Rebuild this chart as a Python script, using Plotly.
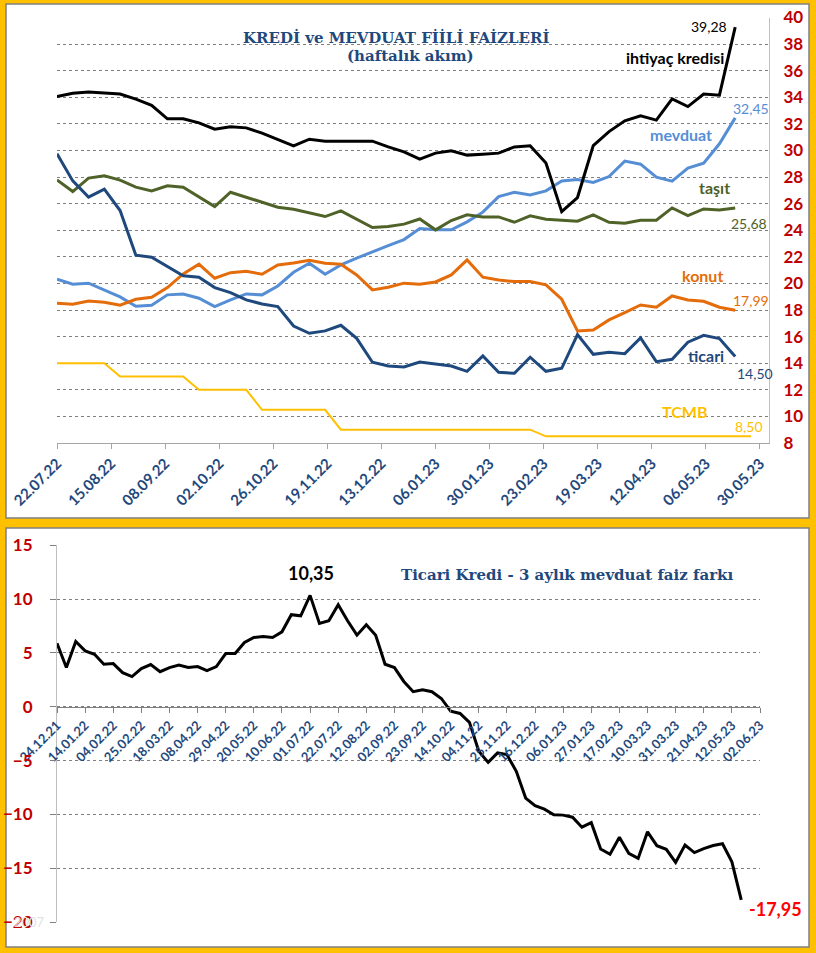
import plotly.graph_objects as go
import pandas as pd

W, H = 816, 953

# ---- top chart: weekly effective rates ----
top_dates = pd.date_range("2022-07-22", periods=44, freq="7D")
tcmb_dates = pd.date_range("2022-07-22", periods=45, freq="7D")

ihtiyac = [34.06, 34.3, 34.4, 34.3, 34.24, 33.86, 33.4, 32.38, 32.38, 32.08,
           31.6, 31.78, 31.7, 31.3, 30.85, 30.35, 30.85, 30.7, 30.7, 30.7,
           30.7, 30.27, 29.9, 29.35, 29.8, 29.97, 29.65, 29.72, 29.8, 30.27,
           30.35, 29.05, 25.4, 26.46, 30.37, 31.42, 32.23, 32.6, 32.28, 33.88,
           33.3, 34.24, 34.16, 39.28]
mevduat = [20.32, 19.94, 20.02, 19.51, 18.99, 18.29, 18.36, 19.14, 19.21, 18.89,
           18.26, 18.76, 19.21, 19.14, 19.81, 20.84, 21.52, 20.69, 21.39, 21.9,
           22.4, 22.85, 23.3, 24.13, 24.03, 24.03, 24.63, 25.36, 26.53, 26.86,
           26.66, 26.96, 27.71, 27.81, 27.59, 28.04, 29.2, 28.97, 27.99, 27.69,
           28.67, 29.05, 30.5, 32.45]
tasit = [27.79, 26.91, 27.92, 28.09, 27.77, 27.24, 26.96, 27.34, 27.24, 26.49,
         25.78, 26.86, 26.49, 26.1, 25.73, 25.58, 25.28, 25.03, 25.46, 24.83,
         24.2, 24.28, 24.46, 24.85, 24.03, 24.73, 25.16, 25.0, 25.0, 24.6,
         25.08, 24.83, 24.75, 24.68, 25.16, 24.6, 24.53, 24.75, 24.75, 25.68,
         25.1, 25.6, 25.53, 25.68]
konut = [18.51, 18.44, 18.68, 18.59, 18.36, 18.81, 18.96, 19.69, 20.72, 21.45,
         20.39, 20.81, 20.92, 20.69, 21.39, 21.54, 21.75, 21.52, 21.45, 20.64,
         19.51, 19.71, 20.02, 19.94, 20.11, 20.64, 21.77, 20.47, 20.26, 20.14,
         20.14, 19.89, 18.81, 16.43, 16.5, 17.26, 17.81, 18.38, 18.21, 19.06,
         18.76, 18.66, 18.21, 17.99]
ticari = [29.75, 27.71, 26.49, 27.09, 25.48, 22.12, 21.97, 21.27, 20.57, 20.47,
          19.69, 19.31, 18.76, 18.46, 18.26, 16.8, 16.25, 16.43, 16.85, 15.87,
          14.07, 13.79, 13.72, 14.09, 13.94, 13.79, 13.39, 14.55, 13.32, 13.24,
          14.45, 13.39, 13.62, 16.15, 14.67, 14.82, 14.72, 15.9, 14.12, 14.3,
          15.58, 16.1, 15.85, 14.5]
tcmb = [14, 14, 14, 14, 13, 13, 13, 13, 13, 12, 12, 12, 12,
        10.5, 10.5, 10.5, 10.5, 10.5,
        9, 9, 9, 9, 9, 9, 9, 9, 9, 9, 9, 9, 9,
        8.5, 8.5, 8.5, 8.5, 8.5, 8.5, 8.5, 8.5, 8.5, 8.5, 8.5, 8.5, 8.5, 8.5]

# ---- bottom chart: commercial loan minus 3-month deposit ----
spread_dates = pd.date_range("2021-12-24", periods=74, freq="7D")
spread = [5.9, 3.64, 6.06, 5.19, 4.88, 3.95, 4.01, 3.17, 2.8, 3.54,
          3.92, 3.26, 3.64, 3.88, 3.64, 3.73, 3.36, 3.73, 4.94, 4.94,
          5.97, 6.44, 6.53, 6.44, 6.96, 8.55, 8.45, 10.35, 7.74, 7.99,
          9.48, 7.99, 6.65, 7.61, 6.65, 3.95, 3.64, 2.35, 1.4, 1.58,
          1.4, 0.77, -0.41, -0.62, -1.45, -4.14, -5.17, -4.29, -4.45, -6.0,
          -8.49, -9.2, -9.51, -10.04, -10.07, -10.26, -11.19, -10.77, -13.22, -13.71,
          -12.13, -13.62, -14.09, -11.62, -12.91, -13.25, -14.46, -12.86, -13.55, -13.18,
          -12.9, -12.73, -14.41, -17.95]

NAVY = "#1F497D"
RED = "#C00000"
GRID = "#7F7F7F"
FONT = "Lato"
SERIF = "DejaVu Serif"


def px(x, y):
    return x / W, 1 - y / H


fig = go.Figure()

series = [
    (mevduat, "#558ED5", 3),
    (tasit, "#4F6228", 3),
    (konut, "#E46C0A", 3),
    (ticari, NAVY, 3),
    (ihtiyac, "#000000", 3),
]
for vals, col, w in series:
    fig.add_trace(go.Scatter(x=top_dates, y=vals, mode="lines",
                             line=dict(color=col, width=w),
                             xaxis="x", yaxis="y", showlegend=False))
fig.add_trace(go.Scatter(x=tcmb_dates, y=tcmb, mode="lines",
                         line=dict(color="#FFC000", width=2),
                         xaxis="x", yaxis="y", showlegend=False))

fig.add_trace(go.Scatter(x=spread_dates, y=spread, mode="lines",
                         line=dict(color="#000000", width=3),
                         xaxis="x2", yaxis="y2", showlegend=False))

# panels
shapes = []
for (x0, y0, x1, y1) in [(6, 4, 809, 518), (6, 528, 809, 947)]:
    a, b = px(x0, y0)
    c, d = px(x1, y1)
    shapes.append(dict(type="rect", xref="paper", yref="paper",
                       x0=a, y0=d, x1=c, y1=b, layer="below",
                       fillcolor="white", line=dict(color="#808080", width=1.5)))

ann = []


def text(t, x, y, color, size, bold=True, family=FONT, anchor="center"):
    xx, yy = px(x, y)
    s = f"<b>{t}</b>" if bold else t
    ann.append(dict(text=s, x=xx, y=yy, xref="paper", yref="paper",
                    xanchor=anchor, yanchor="middle", showarrow=False,
                    font=dict(color=color, size=size, family=family)))


def label(t, xv, yv, color, size, xs, ys, anchor, axes=("x", "y"), bold=False):
    s = f"<b>{t}</b>" if bold else t
    ann.append(dict(text=s, x=xv, y=yv, xref=axes[0], yref=axes[1],
                    xanchor=anchor, yanchor="middle", showarrow=False,
                    xshift=xs, yshift=ys,
                    font=dict(color=color, size=size, family=FONT)))


# titles
text("KREDİ ve MEVDUAT FİİLİ FAİZLERİ", 396, 37, NAVY, 15, family=SERIF)
text("(haftalık akım)", 410, 56, NAVY, 15, family=SERIF)
text("Ticari Kredi - 3 aylık mevduat faiz farkı", 567, 575, NAVY, 15, family=SERIF)

# series names
text("ihtiyaç kredisi", 675, 57, "#000000", 16)
text("mevduat", 681, 135, "#558ED5", 16)
text("taşıt", 714, 187, "#4F6228", 16)
text("konut", 702, 275, "#E46C0A", 16)
text("ticari", 706, 356, NAVY, 16)
text("TCMB", 684, 412, "#FFC000", 16)

# end values
label("39,28", top_dates[-1], ihtiyac[-1], "#000000", 14, -6, 1, "right")
label("32,45", top_dates[-1], mevduat[-1], "#558ED5", 14, -4, 9, "left")
label("25,68", top_dates[-1], tasit[-1], "#4F6228", 14, -6, -16, "left")
label("17,99", top_dates[-1], konut[-1], "#E46C0A", 14, -4, 10, "left")
label("14,50", top_dates[-1], ticari[-1], NAVY, 14, 0, -17, "left")
label("8,50", tcmb_dates[-1], tcmb[-1], "#FFC000", 14, -18, 10, "left")

label("10,35", spread_dates[27], spread[27], "#000000", 18, 26, 22, "right",
      axes=("x2", "y2"), bold=True)
label("-17,95", spread_dates[-1], spread[-1], "#FF0000", 18, 6, -9, "left",
      axes=("x2", "y2"), bold=True)

# faint leftover text
text("2007", 47, 922, "#E3E3E3", 13, bold=False, anchor="right")

top_x0, top_x1 = 57 / W, 769 / W
bot_x0, bot_x1 = 57 / W, 760 / W
top_y = [1 - 443 / H, 1 - 17.5 / H]
bot_y = [1 - 922 / H, 1 - 545.3 / H]
zero_pos = bot_y[0] + (bot_y[1] - bot_y[0]) * 20 / 35

day = 86400000

fig.update_layout(
    width=W, height=H, autosize=False,
    margin=dict(l=0, r=0, t=0, b=0),
    paper_bgcolor="#FFC000", plot_bgcolor="rgba(0,0,0,0)",
    shapes=shapes, annotations=ann, hovermode=False,
    xaxis=dict(domain=[top_x0, top_x1], anchor="y", type="date",
               range=["2022-07-22", "2023-06-03"], automargin=False,
               tick0="2022-07-22", dtick=24 * day, tickformat="%d.%m.%y",
               tickangle=-45, showgrid=False, zeroline=False,
               showline=True, linecolor="#A6A6A6", linewidth=1,
               ticks="outside", ticklen=5, tickcolor="#A6A6A6",
               tickfont=dict(family=FONT, size=15, color=NAVY, weight="bold")),
    yaxis=dict(domain=top_y, anchor="x", side="right", range=[8, 40],
               dtick=2, showgrid=True, gridcolor=GRID, griddash="dot",
               gridwidth=1, zeroline=False, automargin=False,
               showline=True, linecolor="#BFBFBF", linewidth=1,
               ticklabelstandoff=10,
               tickfont=dict(family=FONT, size=17, color=RED, weight="bold")),
    xaxis2=dict(domain=[bot_x0, bot_x1], anchor="free", position=zero_pos,
                type="date", range=["2021-12-24", "2023-06-02"],
                automargin=False,
                tick0="2021-12-24", dtick=21 * day, tickformat="%d.%m.%y",
                tickangle=-45, showgrid=False, zeroline=False,
                showline=True, linecolor="#808080", linewidth=1,
                ticks="outside", ticklen=5, tickcolor="#808080",
                tickfont=dict(family=FONT, size=13, color=NAVY, weight="bold")),
    yaxis2=dict(domain=bot_y, anchor="x2", range=[-20, 15], dtick=5,
                showgrid=True, gridcolor=GRID, griddash="dot", gridwidth=1,
                zeroline=False, showline=True, linecolor="#BFBFBF",
                automargin=False,
                linewidth=1, ticks="outside", ticklen=6, tickcolor=GRID,
                ticklabelstandoff=14,
                tickfont=dict(family=FONT, size=17, color=RED, weight="bold")),
)

fig.write_html("out.html", config={"displayModeBar": False},
               post_script="document.body.style.margin='0';"
                           "document.body.style.overflow='hidden';")
